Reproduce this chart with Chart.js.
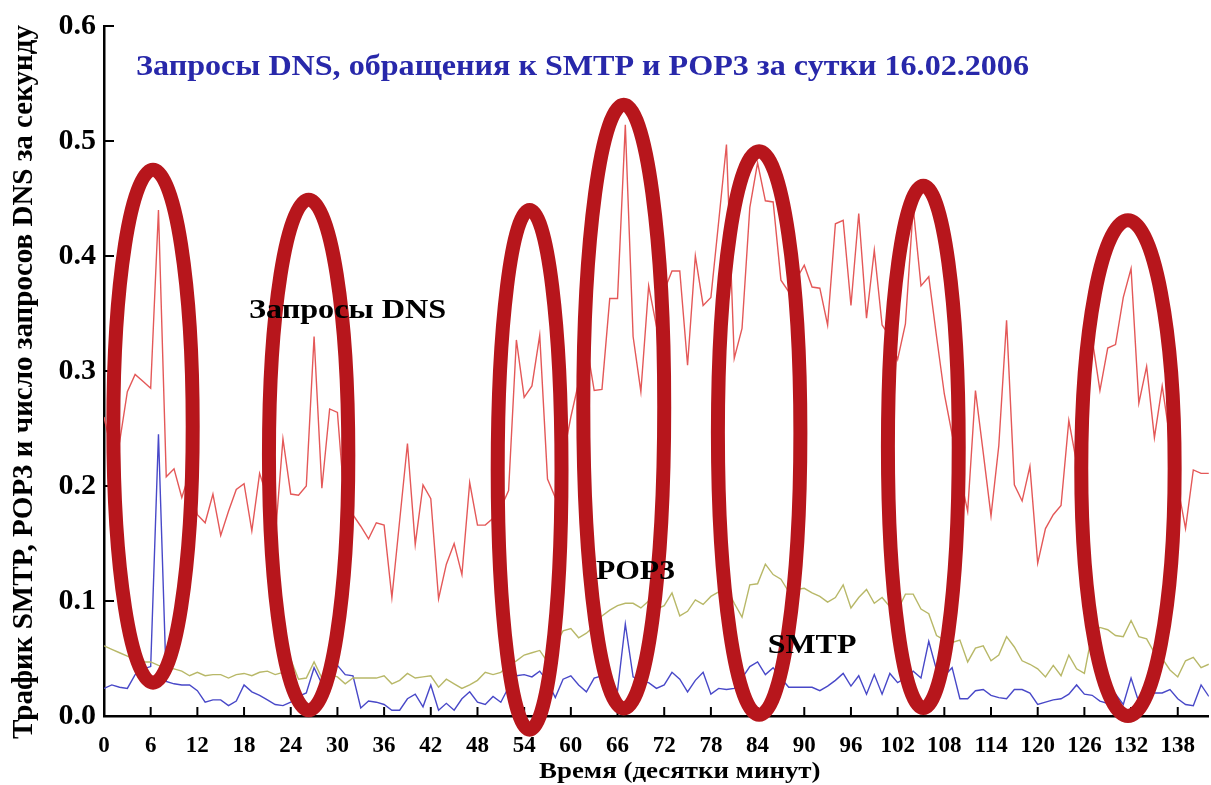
<!DOCTYPE html>
<html lang="ru">
<head>
  <meta charset="UTF-8">
  <title>Запросы DNS, SMTP и POP3</title>
  <script src="https://cdn.jsdelivr.net/npm/chart.js"></script>
  <style>
    body { margin: 0; background: #fff; }
    canvas { display: block; }
  </style>
</head>
<body>
  <canvas id="grafico" width="1211" height="785"></canvas>

  <script>
    // Запросы DNS (в секунду), шаг 10 минут
    const dns = [
      0.26, 0.23, 0.238, 0.282, 0.297, 0.291, 0.285, 0.44, 0.208, 0.215,
      0.19, 0.211, 0.175, 0.168, 0.193, 0.157, 0.178, 0.197, 0.202, 0.161,
      0.211, 0.19, 0.155, 0.241, 0.193, 0.192, 0.2, 0.33, 0.198, 0.267,
      0.264, 0.178, 0.175, 0.165, 0.154, 0.168, 0.166, 0.103, 0.17, 0.237,
      0.149, 0.201, 0.189, 0.102, 0.132, 0.15, 0.123, 0.203, 0.166, 0.166,
      0.172, 0.181, 0.196, 0.327, 0.277, 0.287, 0.331, 0.206, 0.19, 0.225,
      0.26, 0.29, 0.324, 0.283, 0.284, 0.363, 0.363, 0.514, 0.33, 0.282,
      0.374, 0.339, 0.37, 0.387, 0.387, 0.305, 0.4, 0.357, 0.364, 0.43,
      0.497, 0.311, 0.337, 0.442, 0.481, 0.448, 0.447, 0.379, 0.369, 0.38,
      0.392, 0.373, 0.372, 0.34, 0.428, 0.431, 0.357, 0.437, 0.346, 0.405,
      0.34, 0.33, 0.31, 0.341, 0.442, 0.374, 0.382, 0.33, 0.28, 0.245,
      0.21, 0.178, 0.283, 0.229, 0.174, 0.235, 0.344, 0.201, 0.187, 0.217,
      0.133, 0.163, 0.175, 0.183, 0.257, 0.22, 0.33, 0.328, 0.283, 0.32,
      0.323, 0.364, 0.389, 0.272, 0.304, 0.242, 0.287, 0.241, 0.2, 0.163,
      0.214, 0.211, 0.211
    ];

    // POP3
    const pop3 = [
      0.061, 0.058, 0.055, 0.052, 0.049, 0.047, 0.047, 0.044, 0.042, 0.041,
      0.039, 0.035, 0.038, 0.035, 0.036, 0.036, 0.033, 0.036, 0.037, 0.035,
      0.038, 0.039, 0.036, 0.038, 0.049, 0.032, 0.033, 0.047, 0.033, 0.036,
      0.034, 0.028, 0.033, 0.033, 0.033, 0.033, 0.035, 0.028, 0.031, 0.037,
      0.033, 0.034, 0.035, 0.025, 0.032, 0.028, 0.024, 0.027, 0.031, 0.038,
      0.036, 0.038, 0.044, 0.048, 0.053, 0.055, 0.057, 0.047, 0.062, 0.074,
      0.076, 0.068, 0.072, 0.078, 0.087, 0.092, 0.096, 0.098, 0.098, 0.094,
      0.1, 0.093, 0.096, 0.107, 0.087, 0.091, 0.101, 0.097, 0.104, 0.108,
      0.112, 0.098, 0.086, 0.114, 0.115, 0.132, 0.123, 0.119, 0.108, 0.11,
      0.111, 0.107, 0.104, 0.099, 0.103, 0.114, 0.094, 0.103, 0.11, 0.098,
      0.103, 0.095, 0.092, 0.106, 0.106, 0.093, 0.089, 0.07, 0.066, 0.064,
      0.066, 0.047, 0.059, 0.061, 0.048, 0.053, 0.069, 0.06, 0.048, 0.045,
      0.041, 0.034, 0.044, 0.035, 0.053, 0.041, 0.037, 0.072, 0.077, 0.075,
      0.07, 0.069, 0.083, 0.069, 0.067, 0.055, 0.05, 0.04, 0.034, 0.048,
      0.051, 0.042, 0.045
    ];

    // SMTP
    const smtp = [
      0.024, 0.027, 0.025, 0.024, 0.036, 0.041, 0.043, 0.245, 0.03, 0.028,
      0.027, 0.027, 0.022, 0.012, 0.014, 0.014, 0.009, 0.013, 0.027, 0.021,
      0.018, 0.014, 0.01, 0.009, 0.012, 0.017, 0.02, 0.042, 0.028, 0.033,
      0.044, 0.036, 0.035, 0.007, 0.013, 0.012, 0.01, 0.005, 0.005, 0.015,
      0.019, 0.008, 0.027, 0.005, 0.011, 0.005, 0.015, 0.021, 0.012, 0.01,
      0.017, 0.012, 0.025, 0.035, 0.036, 0.034, 0.039, 0.03, 0.016, 0.032,
      0.035, 0.027, 0.021, 0.033, 0.035, 0.028, 0.022, 0.08, 0.034, 0.03,
      0.029, 0.024, 0.027, 0.038, 0.032, 0.021, 0.031, 0.038, 0.019, 0.024,
      0.023, 0.024, 0.033, 0.043, 0.047, 0.036, 0.042, 0.033, 0.025, 0.025,
      0.025, 0.025, 0.022, 0.026, 0.031, 0.037, 0.026, 0.035, 0.019, 0.036,
      0.019, 0.037, 0.029, 0.033, 0.039, 0.033, 0.065, 0.04, 0.035, 0.042,
      0.015, 0.015, 0.022, 0.023, 0.018, 0.016, 0.015, 0.023, 0.023, 0.02,
      0.01, 0.012, 0.014, 0.015, 0.019, 0.027, 0.019, 0.018, 0.013, 0.011,
      0.019, 0.01, 0.033, 0.012, 0.018, 0.02, 0.02, 0.023, 0.015, 0.01,
      0.009, 0.027, 0.017
    ];

    // отсчёты времени (десятки минут)
    const minutes = Array.from({ length: dns.length }, (_, i) => i);

    const xTicks = [0, 6, 12, 18, 24, 30, 36, 42, 48, 54, 60, 66, 72, 78, 84, 90,
                    96, 102, 108, 114, 120, 126, 132, 138];
    const yTicks = [0, 0.1, 0.2, 0.3, 0.4, 0.5, 0.6];

    // выделенные пики DNS: [центр x, центр y, полуось x, полуось y]
    const peaks = [
      [6.3, 0.252, 5.1, 0.223],
      [26.3, 0.227, 5.1, 0.222],
      [54.7, 0.214, 4.1, 0.226],
      [66.8, 0.269, 5.2, 0.2625],
      [84.2, 0.246, 5.3, 0.245],
      [105.3, 0.234, 4.55, 0.227],
      [131.6, 0.2155, 6.0, 0.2155]
    ];

    const title = 'Запросы DNS, обращения к SMTP и POP3 за сутки 16.02.2006';
    const seriesNames = ['Запросы DNS', 'POP3', 'SMTP'];
    const xTitle = 'Время (десятки минут)';
    const yTitle = 'Трафик SMTP, POP3 и число запросов DNS за секунду';

    const serif = '"Liberation Serif", "DejaVu Serif", serif';

    // текст, растянутый по горизонтали, как на исходной картинке
    function wideText(ctx, text, x, y, sx) {
      ctx.save();
      ctx.translate(x, y);
      ctx.scale(sx, 1);
      ctx.fillText(text, 0, 0);
      ctx.restore();
    }

    // подписи, эллипсы и засечки внутрь
    const extras = {
      id: 'extras',
      afterDraw(chart) {
        const ctx = chart.ctx;
        const xs = chart.scales.x;
        const ys = chart.scales.y;
        const area = chart.chartArea;

        ctx.save();
        // засечки
        ctx.strokeStyle = '#000';
        ctx.lineWidth = 2;
        xTicks.forEach(v => {
          const px = xs.getPixelForValue(v);
          ctx.beginPath();
          ctx.moveTo(px, area.bottom);
          ctx.lineTo(px, area.bottom - 9);
          ctx.stroke();
        });
        yTicks.forEach(v => {
          const py = ys.getPixelForValue(v);
          ctx.beginPath();
          ctx.moveTo(area.left, py);
          ctx.lineTo(area.left + 10, py);
          ctx.stroke();
        });

        // эллипсы
        ctx.strokeStyle = 'rgb(183, 22, 28)';
        ctx.lineWidth = 14;
        peaks.forEach(([cx, cy, rx, ry]) => {
          const px = xs.getPixelForValue(cx);
          const py = ys.getPixelForValue(cy);
          const rpx = xs.getPixelForValue(cx + rx) - px;
          const rpy = py - ys.getPixelForValue(cy + ry);
          ctx.beginPath();
          ctx.ellipse(px, py, rpx, rpy, 0, 0, Math.PI * 2);
          ctx.stroke();
        });

        ctx.textAlign = 'center';
        ctx.textBaseline = 'middle';

        // заголовок
        ctx.fillStyle = 'rgb(40, 40, 170)';
        ctx.font = 'bold 30px ' + serif;
        wideText(ctx, title, xs.getPixelForValue(61.5), ys.getPixelForValue(0.564), 1.07);

        // подписи рядов
        ctx.fillStyle = '#000';
        ctx.font = 'bold 28px ' + serif;
        wideText(ctx, seriesNames[0], xs.getPixelForValue(31.3), ys.getPixelForValue(0.352), 1.15);
        wideText(ctx, seriesNames[1], xs.getPixelForValue(68.3), ys.getPixelForValue(0.125), 1.13);
        wideText(ctx, seriesNames[2], xs.getPixelForValue(91.0), ys.getPixelForValue(0.061), 1.14);

        // подпись оси x
        ctx.font = 'bold 24px ' + serif;
        wideText(ctx, xTitle, xs.getPixelForValue(74.0), area.bottom + 56, 1.12);

        // подпись оси y
        ctx.font = 'bold 29px ' + serif;
        ctx.translate(25, (area.top + area.bottom) / 2 + 11);
        ctx.rotate(-Math.PI / 2);
        ctx.fillText(yTitle, 0, 0);
        ctx.restore();
      }
    };

    const ctx = document.getElementById('grafico').getContext('2d');
    new Chart(ctx, {
      type: 'line',
      data: {
        labels: minutes,
        datasets: [
          { label: seriesNames[0], data: dns, borderColor: 'rgb(228, 88, 88)' },
          { label: seriesNames[1], data: pop3, borderColor: 'rgb(184, 184, 104)' },
          { label: seriesNames[2], data: smtp, borderColor: 'rgb(72, 72, 200)' }
        ].map(d => Object.assign(d, { borderWidth: 1.4, pointRadius: 0, tension: 0, fill: false }))
      },
      options: {
        responsive: false,
        animation: false,
        layout: { padding: { top: 20, right: 0, left: 0, bottom: 0 } },
        plugins: {
          legend: { display: false },
          tooltip: { enabled: false }
        },
        scales: {
          x: {
            type: 'linear',
            min: 0,
            max: 142,
            afterFit: s => { s.height = 69; },
            afterBuildTicks: s => { s.ticks = xTicks.map(v => ({ value: v })); },
            grid: { display: true, drawOnChartArea: false, drawTicks: false },
            border: { display: true, color: '#000', width: 2.5 },
            ticks: {
              color: '#000',
              padding: 16,
              maxRotation: 0,
              autoSkip: false,
              font: { family: serif, size: 23, weight: 'bold' }
            }
          },
          y: {
            min: 0,
            max: 0.6,
            afterFit: s => { s.width = 104; },
            afterBuildTicks: s => { s.ticks = yTicks.map(v => ({ value: v })); },
            grid: { display: true, drawOnChartArea: false, drawTicks: false },
            border: { display: true, color: '#000', width: 2.5 },
            ticks: {
              color: '#000',
              padding: 8,
              callback: v => v.toFixed(1),
              font: { family: serif, size: 30, weight: 'bold' }
            }
          }
        }
      },
      plugins: [extras]
    });
  </script>
</body>
</html>
